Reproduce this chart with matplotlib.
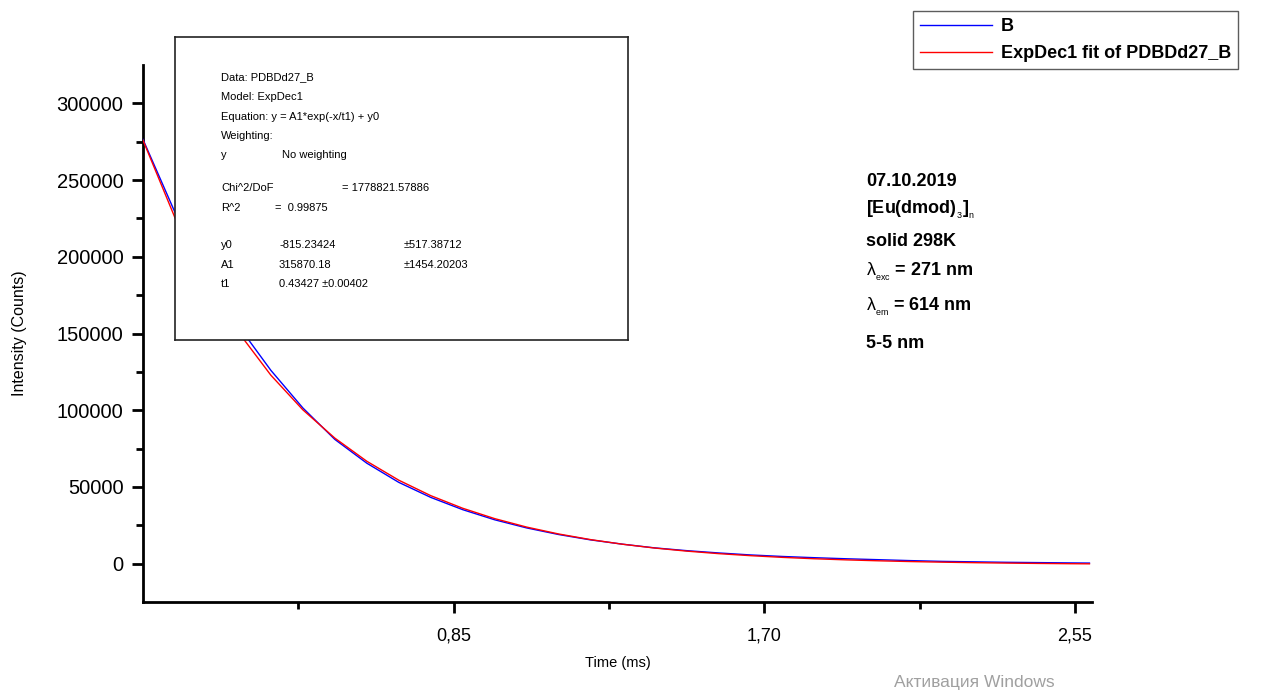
import matplotlib
matplotlib.use("Agg")
import matplotlib.pyplot as plt
from matplotlib.ticker import FixedLocator, FuncFormatter

plt.rcParams['font.family'] = ['Liberation Sans', 'DejaVu Sans']
plt.rcParams['mathtext.fontset'] = 'custom'
plt.rcParams['mathtext.rm'] = 'Liberation Sans'
plt.rcParams['mathtext.it'] = 'Liberation Sans'

# time (ms), values
time_ms = [0.0, 0.0875, 0.175, 0.2625, 0.35, 0.4375, 0.525, 0.6125, 0.7, 0.7875,
           0.875, 0.9625, 1.05, 1.1375, 1.225, 1.3125, 1.4, 1.4875, 1.575, 1.6625,
           1.75, 1.8375, 1.925, 2.0125, 2.1, 2.1875, 2.275, 2.3625, 2.45, 2.5375, 2.59]
counts_b = [276500, 229000, 188500, 154500, 126000, 101500, 81000, 65500, 53000, 43200,
            35200, 28600, 23300, 19000, 15500, 12700, 10300, 8500, 7000, 5700,
            4700, 3900, 3200, 2600, 2000, 1500, 1200, 900, 700, 500, 400]
counts_fit = [275985, 225470, 184200, 150430, 122830, 100270, 81840, 66750, 54410, 44330,
              36110, 29360, 23850, 19360, 15680, 12670, 10200, 8190, 6550, 5220,
              4110, 3210, 2480, 1880, 1385, 985, 655, 385, 165, -15, -95]

x_major = [0.85, 1.70, 2.55]
x_minor = [0.425, 1.275, 2.125]
y_major = [0, 50000, 100000, 150000, 200000, 250000, 300000]
y_minor = [25000, 75000, 125000, 175000, 225000, 275000]

fit_lines = [
    ("Data: PDBDd27_B", None, None),
    ("Model: ExpDec1", None, None),
    ("Equation: y = A1*exp(-x/t1) + y0", None, None),
    ("Weighting:", None, None),
    ("y", "No weighting", None),
    ("", None, None),
    ("Chi^2/DoF", "= 1778821.57886", None),
    ("R^2", "=  0.99875", None),
    ("", None, None),
    ("y0", "-815.23424", "\u00b1517.38712"),
    ("A1", "315870.18", "\u00b11454.20203"),
    ("t1", "0.43427 \u00b10.00402", None),
]

fig = plt.figure(figsize=(12.72, 6.96), dpi=100)
ax = fig.add_axes([0.1124, 0.135, 0.7461, 0.7716])

ax.plot(time_ms, counts_b, color='#0000ff', lw=1.0, label='B', zorder=3)
ax.plot(time_ms, counts_fit, color='#ff0000', lw=1.0, label='ExpDec1 fit of PDBDd27_B', zorder=4)

ax.set_xlim(0, 2.597)
ax.set_ylim(-25000, 325000)

for s in ['top', 'right']:
    ax.spines[s].set_visible(False)
for s in ['left', 'bottom']:
    ax.spines[s].set_linewidth(2)

ax.xaxis.set_major_locator(FixedLocator(x_major))
ax.xaxis.set_minor_locator(FixedLocator(x_minor))
ax.yaxis.set_major_locator(FixedLocator(y_major))
ax.yaxis.set_minor_locator(FixedLocator(y_minor))
ax.xaxis.set_major_formatter(FuncFormatter(lambda v, p: f"{v:.2f}".replace('.', ',')))
ax.tick_params(which='major', direction='out', length=8, width=2, labelsize=14.5, pad=6)
ax.tick_params(which='minor', direction='out', length=5, width=2)
ax.tick_params(axis='x', which='major', labelsize=13, pad=10)

ax.set_xlabel("Time (ms)", fontsize=10.5)
ax.xaxis.set_label_coords(0.5, -0.1)
ax.set_ylabel("Intensity (Counts)", fontsize=11.5, va='center')
ax.yaxis.set_label_coords(-0.13, 0.5)

# legend box
ax.legend(loc='upper left', bbox_to_anchor=(0.7178, 0.9842), bbox_transform=fig.transFigure,
          frameon=True, fancybox=False, edgecolor='#333333',
          prop={'weight': 'bold', 'size': 13}, handlelength=4.0, handletextpad=0.45,
          borderpad=0.4, labelspacing=0.55, borderaxespad=0)

# fit report box
box = fig.add_axes([0.1376, 0.5115, 0.3561, 0.4353])
box.set_facecolor('white')
box.set_xticks([])
box.set_yticks([])
for s in box.spines.values():
    s.set_linewidth(1.2)
    s.set_edgecolor('#222222')
box.set_xlim(175, 628)
box.set_ylim(340, 37)
row_y = [77, 97, 117, 136, 155, 172, 188, 208, 227, 245, 265, 284]
for yy, (a, b, c) in zip(row_y, fit_lines):
    if a:
        box.text(221, yy, a, fontsize=8, va='center', ha='left')
    if b:
        bx = 282 if a == 'y' else (342 if a.startswith('Chi') else (275 if a == 'R^2' else 279))
        box.text(bx, yy, b, fontsize=8, va='center', ha='left')
    if c:
        box.text(404, yy, c, fontsize=8, va='center', ha='left')

# sample notes
notes_x = 866 / 1272
notes = [
    (181, "07.10.2019"),
    (210, r"[Eu(dmod)$_{_3}$]$_{_n}$"),
    (241, "solid 298K"),
    (272, r"$\lambda_{_{exc}}$ = 271 nm"),
    (307, r"$\lambda_{_{em}}$ = 614 nm"),
    (343, "5-5 nm"),
]
for yy, t in notes:
    fig.text(notes_x, 1 - yy / 696, t, fontsize=13, weight='bold', va='center', ha='left')

fig.text(1055 / 1272, 1 - 682 / 696, "Активация Windows", fontsize=12.5, color='#a0a0a0',
         ha='right', va='center')

fig.savefig("out.png", dpi=100, facecolor='white')
